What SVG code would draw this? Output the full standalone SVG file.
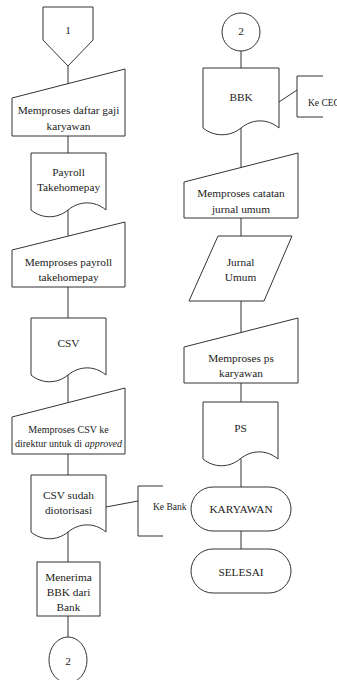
<svg xmlns="http://www.w3.org/2000/svg" xmlns:xlink="http://www.w3.org/1999/xlink" width="337" height="680" viewBox="0 0 337 680">
  <style>
    .shape { fill: #ffffff; stroke: #333333; stroke-width: 1; }
    .line { fill: none; stroke: #333333; stroke-width: 1; }
    text { font-family: 'Liberation Serif', 'DejaVu Serif', serif; font-size: 11.3px; fill: #222222; text-anchor: middle; dominant-baseline: central; }
    .small { font-size: 10px; }
    .note { font-size: 9.5px; text-anchor: start; }
  </style>
  <defs>
    <!-- document symbol: 75 wide, wavy bottom edge -->
    <path id="doc" d="M0,0 H75 V57 C63,47 48,48 37,57 C26,66 11,66 0,57 Z"/>
  </defs>

  <!-- connectors -->
  <g id="connectors">
    <line class="line" x1="68" y1="66" x2="68" y2="84"/>
    <line class="line" x1="68" y1="136" x2="68" y2="153"/>
    <line class="line" x1="68" y1="210" x2="68" y2="236"/>
    <line class="line" x1="68" y1="287" x2="68" y2="318"/>
    <line class="line" x1="68" y1="375" x2="68" y2="403"/>
    <line class="line" x1="68" y1="454" x2="68" y2="475"/>
    <line class="line" x1="68" y1="532" x2="68" y2="562"/>
    <line class="line" x1="68" y1="616" x2="68" y2="637"/>
    <line class="line" x1="106" y1="507" x2="138" y2="501"/>

    <line class="line" x1="241" y1="51" x2="241" y2="68"/>
    <line class="line" x1="241" y1="125" x2="241" y2="168"/>
    <line class="line" x1="241" y1="218" x2="241" y2="236"/>
    <line class="line" x1="241" y1="301" x2="241" y2="333"/>
    <line class="line" x1="241" y1="383" x2="241" y2="402"/>
    <line class="line" x1="241" y1="459" x2="241" y2="487"/>
    <line class="line" x1="241" y1="531" x2="241" y2="549"/>
    <line class="line" x1="279" y1="102" x2="297" y2="90"/>
  </g>

  <g font-family="Liberation Serif, serif">
  <!-- left column -->
  <g id="start-connector-1">
    <path class="shape" d="M43,7 H93 V40 L68,66 L43,40 Z"/>
    <text x="68" y="30">1</text>
  </g>
  <g id="proses-daftar-gaji">
    <path class="shape" d="M12,98 L125,69 V136 H12 Z"/>
    <text x="68.5" y="110">Memproses daftar gaji</text>
    <text x="68.5" y="126">karyawan</text>
  </g>
  <g id="payroll-takehomepay">
    <use class="shape" xlink:href="#doc" transform="translate(31,153)"/>
    <text x="68.5" y="172">Payroll</text>
    <text x="68.5" y="187">Takehomepay</text>
  </g>
  <g id="proses-payroll">
    <path class="shape" d="M12,250 L125,222 V287 H12 Z"/>
    <text x="68.5" y="262">Memproses payroll</text>
    <text x="68.5" y="277">takehomepay</text>
  </g>
  <g id="csv">
    <use class="shape" xlink:href="#doc" transform="translate(31,318)"/>
    <text x="68.5" y="343">CSV</text>
  </g>
  <g id="proses-csv">
    <path class="shape" d="M12,417 L125,388 V454 H12 Z"/>
    <text class="small" x="68.5" y="429">Memproses CSV ke</text>
    <text class="small" x="68.5" y="443">direktur untuk di <tspan font-style="italic">approved</tspan></text>
  </g>
  <g id="csv-diotorisasi">
    <use class="shape" xlink:href="#doc" transform="translate(31,475)"/>
    <text x="68.5" y="495">CSV sudah</text>
    <text x="68.5" y="510">diotorisasi</text>
  </g>
  <g id="ke-bank">
    <path class="line" d="M163,486 H138 V536 H163"/>
    <text class="note" x="153" y="507">Ke Bank</text>
  </g>
  <g id="menerima-bbk">
    <rect class="shape" x="37" y="562" width="63" height="54"/>
    <text x="68.5" y="577">Menerima</text>
    <text x="68.5" y="592">BBK dari</text>
    <text x="68.5" y="607">Bank</text>
  </g>
  <g id="connector-2-out">
    <ellipse class="shape" cx="68" cy="660" rx="19" ry="23"/>
    <text x="68" y="661">2</text>
  </g>

  <!-- right column -->
  <g id="connector-2-in">
    <ellipse class="shape" cx="241" cy="32" rx="19" ry="19"/>
    <text x="241" y="31">2</text>
  </g>
  <g id="bbk">
    <path class="shape" d="M203,68 H279 V128 C267,118 252,119 241,128 C230,137 214,137 203,128 Z"/>
    <text x="241" y="97">BBK</text>
  </g>
  <g id="ke-ceo">
    <path class="line" d="M323,76 H297 V117 H323"/>
    <text class="note" x="308" y="103">Ke CEO</text>
  </g>
  <g id="proses-jurnal">
    <path class="shape" d="M184,182 L298,153 V218 H184 Z"/>
    <text x="241" y="193">Memproses catatan</text>
    <text x="241" y="209">jurnal umum</text>
  </g>
  <g id="jurnal-umum">
    <path class="shape" d="M218,236 H292 L264,301 H189 Z"/>
    <text x="240.5" y="262">Jurnal</text>
    <text x="240.5" y="277">Umum</text>
  </g>
  <g id="proses-ps">
    <path class="shape" d="M184,347 L298,318 V383 H184 Z"/>
    <text x="241" y="358">Memproses ps</text>
    <text x="241" y="373">karyawan</text>
  </g>
  <g id="ps">
    <use class="shape" xlink:href="#doc" transform="translate(203,402)"/>
    <text x="240.5" y="428">PS</text>
  </g>
  <g id="karyawan">
    <rect class="shape" x="191" y="487" width="100" height="44" rx="22" ry="22"/>
    <text x="241" y="509">KARYAWAN</text>
  </g>
  <g id="selesai">
    <rect class="shape" x="191" y="549" width="100" height="44" rx="22" ry="22"/>
    <text x="241" y="572">SELESAI</text>
  </g>
  </g>
</svg>
